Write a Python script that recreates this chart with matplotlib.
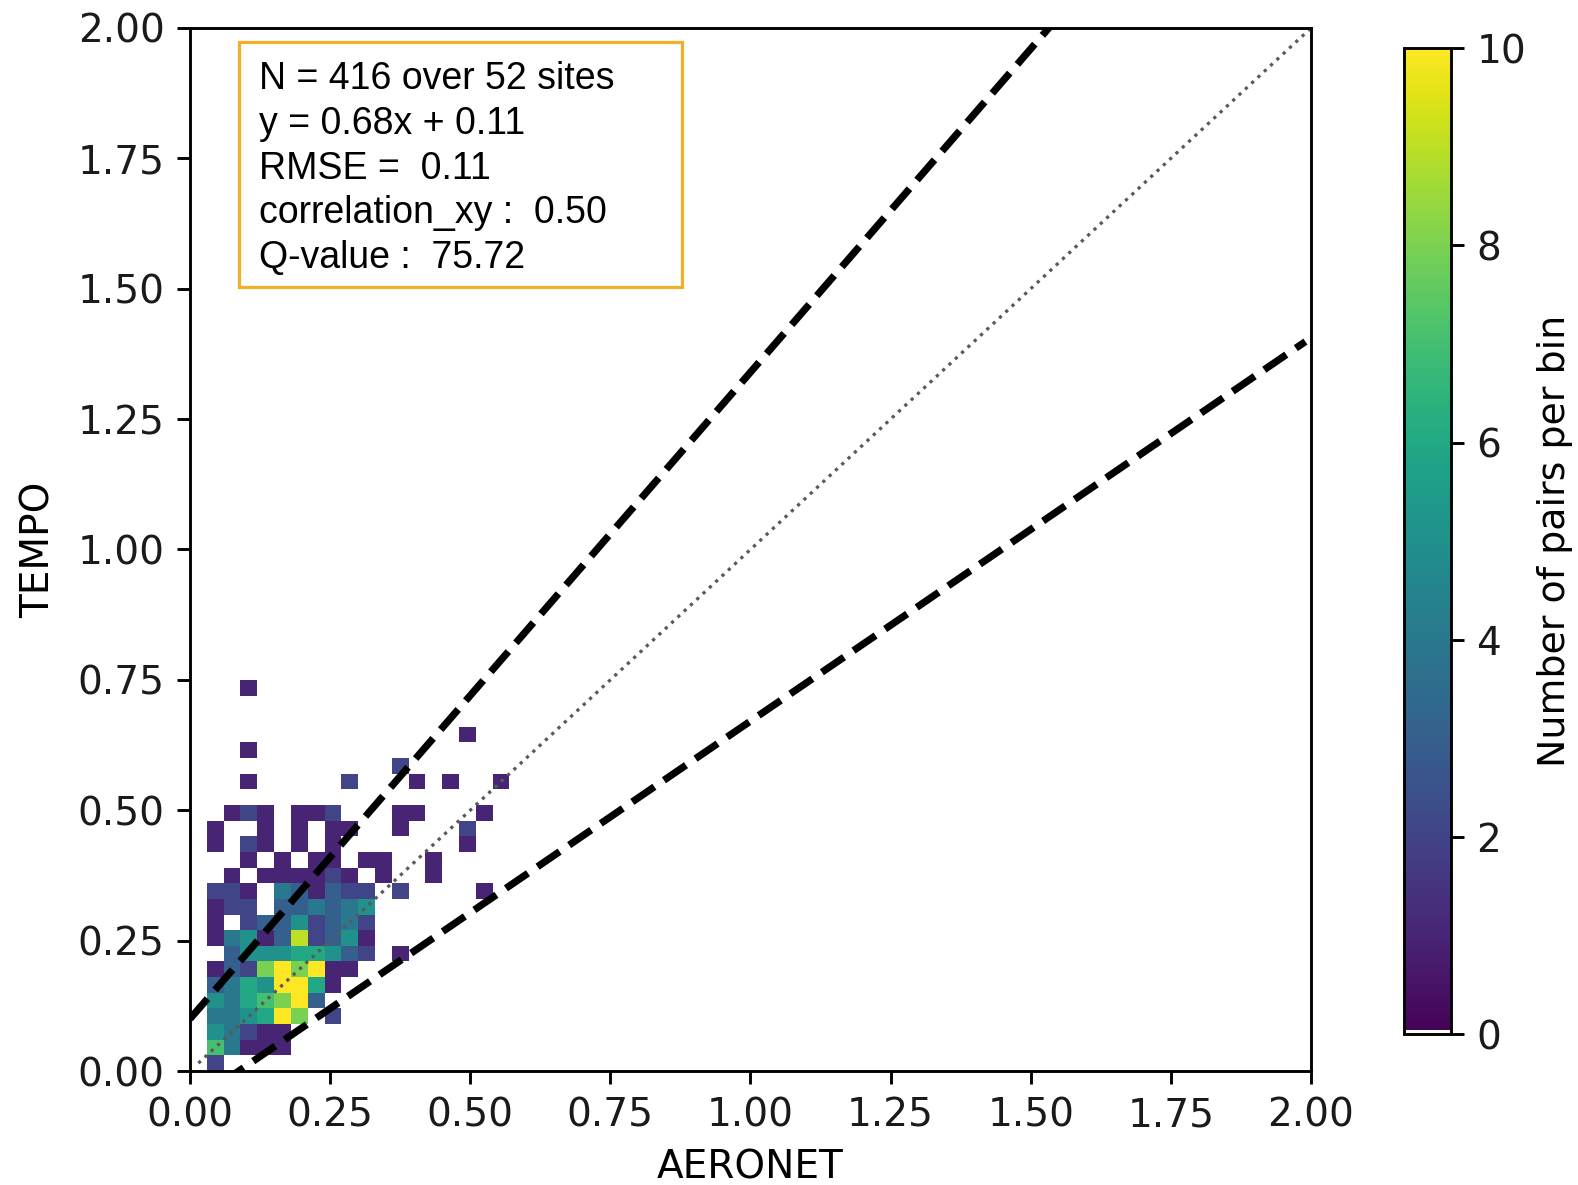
import numpy as np
import matplotlib
matplotlib.use("Agg")
import matplotlib.pyplot as plt
from matplotlib.colors import ListedColormap
from matplotlib.patches import Rectangle

# ---- data ----
bin_width = 0.03
n_cols = 19
# counts per bin: row index = TEMPO bin (from 0), dict col index = AERONET bin
count_rows = [
    {1: 2},
    {1: 7, 2: 4, 3: 1, 4: 1, 5: 1},
    {1: 5, 2: 4, 3: 2, 4: 1, 5: 1},
    {1: 4, 2: 4, 3: 5, 4: 6, 5: 10, 6: 8, 8: 2},
    {1: 5, 2: 4, 3: 6, 4: 7, 5: 8, 6: 10, 7: 3},
    {1: 3, 2: 4, 3: 6, 4: 5, 5: 10, 6: 10, 7: 6, 8: 1},
    {1: 1, 2: 3, 3: 2, 4: 8, 5: 10, 6: 8, 7: 10, 8: 1, 9: 1},
    {2: 3, 3: 5, 4: 5, 5: 5, 6: 6, 7: 6, 8: 5, 9: 3, 10: 2, 12: 1},
    {1: 1, 2: 4, 3: 5, 4: 1, 5: 3, 6: 9, 7: 2, 8: 3, 9: 5, 10: 1},
    {1: 1, 3: 2, 4: 3, 5: 3, 6: 5, 7: 2, 8: 3, 9: 4, 10: 2},
    {1: 1, 2: 2, 3: 2, 5: 3, 6: 3, 7: 4, 8: 3, 9: 4, 10: 5},
    {1: 2, 2: 2, 3: 1, 5: 4, 6: 3, 7: 1, 8: 3, 9: 2, 10: 2, 12: 2, 17: 1},
    {2: 1, 4: 1, 5: 1, 6: 1, 7: 1, 8: 2, 9: 1, 11: 1, 14: 1},
    {3: 1, 5: 1, 7: 1, 8: 1, 10: 1, 11: 1, 14: 1},
    {1: 1, 3: 2, 4: 1, 6: 1, 8: 1, 16: 1},
    {1: 1, 4: 1, 6: 1, 8: 1, 9: 1, 12: 1, 16: 2},
    {2: 1, 3: 2, 4: 1, 6: 1, 7: 1, 8: 2, 12: 1, 13: 1, 17: 1},
    {},
    {3: 1, 9: 2, 13: 1, 15: 1, 18: 1},
    {12: 2},
    {3: 1},
    {16: 1},
    {},
    {},
    {3: 1},
]

stats_lines = [
    "N = 416 over 52 sites",
    "y = 0.68x + 0.11",
    "RMSE =  0.11",
    "correlation_xy :  0.50",
    "Q-value :  75.72",
]

upper_slope, upper_intercept = 1.24, 0.10
lower_slope, lower_intercept = 0.735, -0.064
one_to_one = [0.015, 2.0]
ticks = [0.00, 0.25, 0.50, 0.75, 1.00, 1.25, 1.50, 1.75, 2.00]
cbar_ticks = [0, 2, 4, 6, 8, 10]

# ---- build grid ----
counts = np.zeros((len(count_rows), n_cols))
for j, row in enumerate(count_rows):
    for i, v in row.items():
        counts[j, i] = v
x_edges = np.arange(n_cols + 1) * bin_width
y_edges = np.arange(len(count_rows) + 1) * bin_width

base = plt.get_cmap("viridis")(np.linspace(0, 1, 256))
base[0] = [1, 1, 1, 1]
cmap = ListedColormap(base)

plt.rcParams["font.size"] = 10.8
plt.rcParams["text.color"] = "#1a1a1a"
plt.rcParams["xtick.labelcolor"] = "#1a1a1a"
plt.rcParams["ytick.labelcolor"] = "#1a1a1a"

dpi = 260
fig = plt.figure(figsize=(1578 / dpi, 1185 / dpi), dpi=dpi)
ax = fig.add_axes([0.1204, 0.0962, 0.7104, 0.8802])
cax = fig.add_axes([0.8897, 0.1274, 0.0298, 0.8318])

mesh = ax.pcolormesh(x_edges, y_edges, counts, cmap=cmap, vmin=0, vmax=10)

x_up = np.array([0.0, 2.0])
x_lo = np.array([0.0, 1.99])
ax.plot(x_up, upper_slope * x_up + upper_intercept, "k--", lw=2)
ax.plot(x_lo, lower_slope * x_lo + lower_intercept, "k--", lw=2)
ax.plot(one_to_one, one_to_one, ":", color="0.35", lw=0.9)

ax.set_xlim(0, 2)
ax.set_ylim(0, 2)
ax.set_xticks(ticks)
ax.set_yticks(ticks)
ax.set_xticklabels([f"{t:.2f}" for t in ticks])
ax.set_yticklabels([f"{t:.2f}" for t in ticks])
ax.set_xlabel("AERONET", labelpad=4)
ax.set_ylabel("TEMPO", labelpad=5.5)

ax.add_patch(Rectangle((0.0433, 0.7519), 0.4392 - 0.0433, 0.9863 - 0.7519,
                       transform=ax.transAxes, facecolor="white",
                       edgecolor="#efb12c", lw=0.9, zorder=5))
ax.text(0.062, 0.968, "\n".join(stats_lines), transform=ax.transAxes,
        ha="left", va="top", fontsize=10.4, family="Liberation Sans",
        color="black", linespacing=1.31, zorder=6)

cb = fig.colorbar(mesh, cax=cax, ticks=cbar_ticks)
cb.set_label("Number of pairs per bin", labelpad=3, fontsize=10.5)

fig.savefig("out.png", dpi=dpi)
